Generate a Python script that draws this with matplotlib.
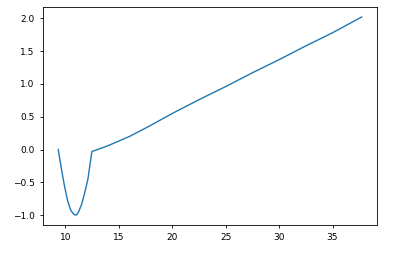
import matplotlib
matplotlib.use("Agg")
import matplotlib.pyplot as plt

x = [9.32, 9.6, 9.9, 10.2, 10.5, 10.8, 11.0, 11.2, 11.5, 11.8, 12.1, 12.47,
     13.0, 14.0, 15.0, 16.0, 18.0, 20.0, 22.5, 25.0, 27.5, 30.0, 32.5, 35.0, 37.73]
y = [0.0, -0.28, -0.55, -0.78, -0.93, -0.99, -1.0, -0.96, -0.84, -0.66, -0.45, -0.03,
     0.0, 0.06, 0.13, 0.2, 0.37, 0.55, 0.76, 0.96, 1.17, 1.37, 1.58, 1.78, 2.02]

fig = plt.figure(figsize=(3.95, 2.54), dpi=100)
ax = fig.add_axes([0.109, 0.114, 0.845, 0.858])
ax.plot(x, y, color="#1f77b4", linewidth=1.0)
ax.tick_params(labelsize=6.5, length=2.5, width=0.6)
for s in ax.spines.values():
    s.set_linewidth(0.6)
fig.savefig("out.png", dpi=100)
